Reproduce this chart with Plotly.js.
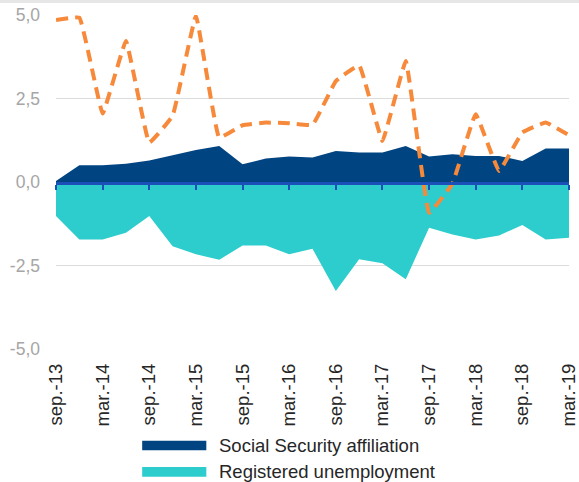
<!DOCTYPE html>
<html>
<head>
<meta charset="utf-8">
<script src="https://cdn.plot.ly/plotly-3.0.1.min.js"></script>
<style>html,body{margin:0;padding:0;background:#fff;}#chart{width:579px;height:482px;}</style>
</head>
<body>
<div id="chart"></div>
<script>
// Quarterly categories (labels shown every other quarter)
const quarters = ['sep.-13','dic.-13','mar.-14','jun.-14','sep.-14','dic.-14','mar.-15','jun.-15','sep.-15','dic.-15','mar.-16','jun.-16','sep.-16','dic.-16','mar.-17','jun.-17','sep.-17','dic.-17','mar.-18','jun.-18','sep.-18','dic.-18','mar.-19'];

const affiliation = [0.03,0.50,0.50,0.55,0.64,0.80,0.96,1.08,0.53,0.70,0.76,0.73,0.93,0.88,0.88,1.08,0.76,0.83,0.78,0.78,0.63,1.00,1.00];
const unemployment = [-1.02,-1.72,-1.72,-1.52,-1.02,-1.92,-2.16,-2.33,-1.90,-1.90,-2.16,-2.00,-3.26,-2.31,-2.43,-2.91,-1.37,-1.57,-1.72,-1.60,-1.29,-1.72,-1.67];
const thirdSeries = [4.85,4.92,2.05,4.22,1.18,1.98,4.97,1.33,1.70,1.78,1.76,1.71,3.02,3.49,1.23,3.62,-0.92,-0.05,2.03,0.33,1.48,1.78,1.40];

const seriesNames = ['Social Security affiliation','Registered unemployment'];
const yTicks = [-5,-2.5,0,2.5,5];
const yTickText = yTicks.map(v => v.toFixed(1).replace('.', ','));

const cBlue = '#004481', cAqua = '#2dcccd', cOrange = '#f7893b', cAxis = '#1b50b8';

const traces = [
  {x: quarters, y: unemployment, type:'scatter', mode:'lines', fill:'tozeroy', fillcolor:cAqua, line:{width:0,color:cAqua}, name:seriesNames[1], showlegend:false, hoverinfo:'skip'},
  {x: quarters, y: affiliation, type:'scatter', mode:'lines', fill:'tozeroy', fillcolor:cBlue, line:{width:0,color:cBlue}, name:seriesNames[0], showlegend:false, hoverinfo:'skip'},
  {x: quarters, y: thirdSeries, type:'scatter', mode:'lines', line:{color:cOrange, width:4, dash:'12px,7px', shape:'spline', smoothing:0.25}, showlegend:false, hoverinfo:'skip'},
  // helper trace so the zero-line axis (x2, anchored at y = 0) is drawn
  {x: quarters, y: quarters.map(() => 0.5), type:'scatter', mode:'lines', xaxis:'x2', yaxis:'y2', opacity:0, line:{width:0}, showlegend:false, hoverinfo:'skip'}
];

const legendShapes = [], legendAnn = [];
const legCols = [cBlue, cAqua];
const legY = [-0.289, -0.368];
for (let i=0;i<2;i++){
  legendShapes.push({type:'rect', xref:'paper', yref:'paper', x0:0.168, x1:0.293, y0:legY[i]-0.0145, y1:legY[i]+0.0145, fillcolor:legCols[i], line:{width:0}});
  legendAnn.push({xref:'paper', yref:'paper', x:0.314, y:legY[i], xanchor:'left', yanchor:'middle', showarrow:false, text:seriesNames[i], font:{family:'Liberation Sans, Arial, sans-serif', size:18.5, color:'#262626'}});
}
legendShapes.push({type:'rect', xref:'paper', yref:'paper', x0:-0.2, x1:1.05, y0:1.036, y1:1.06, fillcolor:'#e6e6e6', line:{width:0}});

const layout = {
  width:579, height:482,
  margin:{l:56, r:10, t:15, b:133},
  paper_bgcolor:'#ffffff', plot_bgcolor:'rgba(0,0,0,0)',
  showlegend:false,
  font:{family:'Liberation Sans, Arial, sans-serif'},
  xaxis:{type:'category', range:[0,22], tickmode:'linear', tick0:0, dtick:2, tickangle:-90,
         showgrid:false, zeroline:false, showline:false, ticks:'', ticklabelstandoff:10,
         tickfont:{size:18.5, color:'#262626'}, fixedrange:true},
  yaxis:{range:[-5,5], tickvals:yTicks, ticktext:yTickText, showgrid:true, gridcolor:'#dcdcdc', gridwidth:1.5,
         zeroline:false, showline:false, ticks:'', ticklabelstandoff:15,
         tickfont:{size:17.5, color:'#a6a6a6'}, fixedrange:true},
  xaxis2:{type:'category', anchor:'y2', range:[0,22], side:'bottom', domain:[0,1],
          showline:true, linecolor:cAxis, linewidth:3, ticks:'outside', ticklen:5, tickwidth:2, tickcolor:cAxis,
          tickmode:'linear', tick0:0, dtick:2, showticklabels:false, showgrid:false, zeroline:false, fixedrange:true},
  yaxis2:{domain:[0.5,1], anchor:'x2', range:[0,1], visible:false, showgrid:false, zeroline:false, fixedrange:true},
  shapes:legendShapes,
  annotations:legendAnn
};

Plotly.newPlot('chart', traces, layout, {displayModeBar:false, staticPlot:true});
</script>
</body>
</html>
